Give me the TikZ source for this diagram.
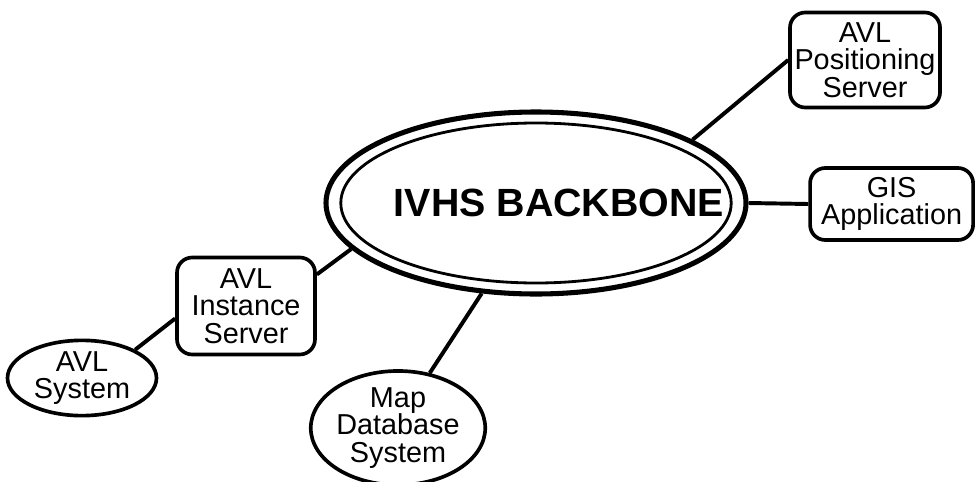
\documentclass[tikz,border=0pt]{standalone}
\usepackage{fontspec}
\setmainfont{Liberation Sans}
\usetikzlibrary{shapes,positioning}

\begin{document}
\begin{tikzpicture}[
  every node/.style={font=\fontsize{20.5}{19.5}\selectfont, align=center, inner sep=0pt},
  server/.style={draw, rectangle, rounded corners=0.38cm, line width=2.6pt},
  system/.style={draw, ellipse, line width=2.6pt},
  link/.style={line width=2.8pt}]
\useasboundingbox (0,0) rectangle (24.4,12.025);

% backbone
\node[draw, ellipse, line width=3.6pt, minimum width=10.5cm, minimum height=4.55cm] (backbone) at (13.4,6.95) {};
\draw[line width=2pt] (backbone.center) ellipse [x radius=4.88cm, y radius=2cm];
\node[font=\fontsize{28}{30}\selectfont\bfseries, xshift=0.575cm] (backbonetext) at (backbone.center) {IVHS BACKBONE};

% servers
\node[server, minimum width=3.75cm, minimum height=2.375cm] (posserver) at (21.625,10.525) {AVL\\Positioning\\Server};
\node[server, minimum width=4.075cm, minimum height=1.8cm] (gisapp) at (22.29,6.925) {GIS\\Application};
\node[server, minimum width=3.45cm, minimum height=2.425cm] (instserver) at (6.15,4.375) {AVL\\Instance\\Server};

% systems
\node[system, minimum width=3.725cm, minimum height=1.875cm] (avlsystem) at (2.05,2.575) {AVL\\System};
\node[system, minimum width=4.25cm, minimum height=2.625cm] (mapdb) at (9.95,1.325) {Map\\Database\\System};

% links
\draw[link] (backbone.22) -- (posserver.west);
\draw[link] (backbone.east) -- (gisapp.west);
\draw[link] (backbone.194) -- (instserver.24);
\draw[link] (avlsystem.28) -- (instserver.190);
\draw[link] (backbone.239) -- (mapdb.60);
\end{tikzpicture}
\end{document}
